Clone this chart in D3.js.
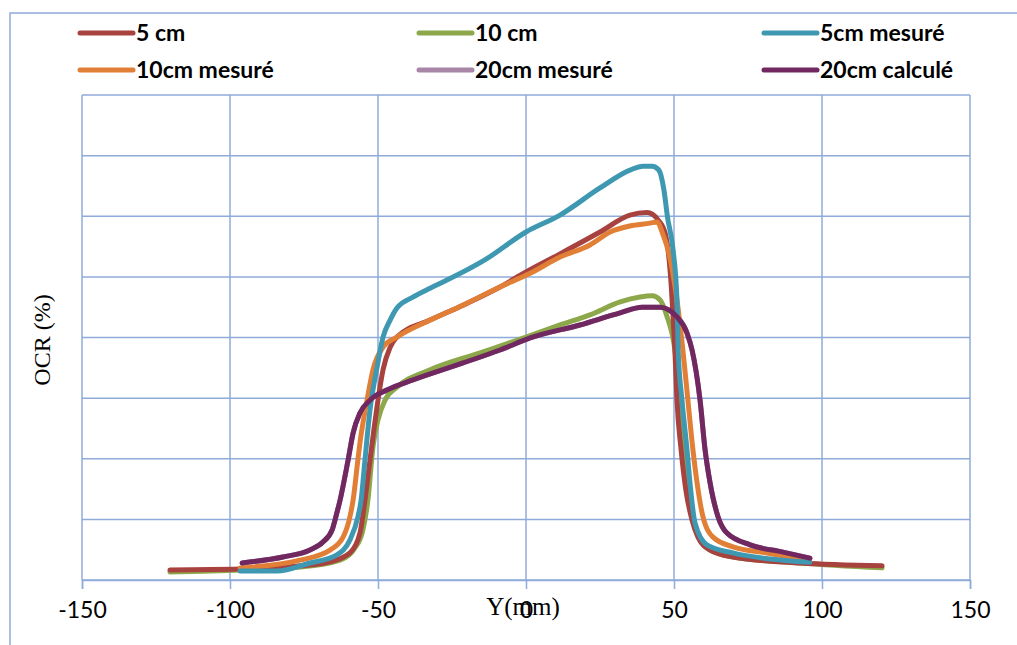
<!DOCTYPE html>
<html>
<head>
<meta charset="utf-8">
<script src="https://cdn.jsdelivr.net/npm/d3@7"></script>
<style>
  html, body { margin: 0; padding: 0; background: #fff; }
  svg { display: block; }
</style>
</head>
<body>
<svg id="chart" width="1017" height="645"></svg>
<script>
// ---- Data (x in mm, y in arbitrary OCR units, 0..120 spans the plot) ----
const xTicks = [-150, -100, -50, 0, 50, 100, 150];
const yGrid = [0, 15, 30, 45, 60, 75, 90, 105, 120];
const seriesNames = ["5 cm", "10 cm", "5cm mesuré", "10cm mesuré", "20cm mesuré", "20cm calculé"];

const red5cm = [
  [-120.3,2.5],[-96.6,2.7],[-76.4,3.5],[-66.2,4.5],[-59.5,6.7],[-56.1,11.6],[-54.4,19.8],
  [-52.7,29.7],[-51.7,35.4],[-50,44.5],[-48.3,52],[-45.9,57.6],[-43.6,60.1],[-32.4,64.3],
  [-21.3,68],[-8.8,72.5],[0,76.2],[11.5,80.7],[25,86.1],[35.1,90.3],[40.9,90.9],[44.6,89.1],
  [47,85.8],[48,81.6],[49,73.5],[49.7,65.1],[50.3,56.9],[51,44.5],[52.4,32.2],[54,22.3],
  [56.1,14.8],[58.1,10.6],[62.2,7.4],[69.9,5.7],[92.6,4.2],[120.3,3.5]
];
const green10cm = [
  [-120.3,2.0],[-96.6,2.5],[-76.4,3.2],[-62.8,4.9],[-57.8,7.9],[-55.1,12.4],[-53.4,19.8],
  [-51.7,32.9],[-50,39.6],[-47.6,44.5],[-43.6,47.7],[-32.4,52],[-15.5,56.2],[0,60.1],
  [11.5,63.1],[21.6,65.6],[31.8,68.8],[38.5,70],[42.6,70.3],[45.3,69.3],[47.5,65.5],
  [50.3,56.9],[52,44.5],[53.4,32.2],[54.7,22.3],[57.1,13.6],[58.8,9.9],[62.2,7.4],
  [69.9,5.7],[92.6,4.2],[120.3,3.0]
];
const blue5cmMes = [
  [-96.6,2.2],[-84.1,2.2],[-73,4.2],[-63.9,6.2],[-59.5,9.9],[-56.8,15.6],[-55.7,19.8],
  [-54.4,29.7],[-52.7,42.1],[-50.3,52.7],[-48.3,60.1],[-45.9,64.3],[-43.6,67.3],[-38.2,70],
  [-32.4,72.2],[-26.7,74.2],[-13.9,79.2],[0,86.1],[11.5,90.3],[25,97],[35.1,101.4],
  [39.5,102.4],[42.6,102.4],[44.8,101.5],[46.6,96.5],[47.8,89.8],[49.7,81.6],[51,69.3],[51.4,56.9],
  [52.7,44.5],[54.4,32.2],[55.4,24],[57.1,14.1],[61.1,8.7],[69.9,6.7],[86.8,4.9],[95.9,4.4]
];
const orange10cmMes = [
  [-96.6,3.0],[-76.4,4.9],[-66.2,7.4],[-61.8,10.6],[-59.5,15.6],[-58.4,19.8],[-56.8,29.7],
  [-56.1,33.9],[-53.7,44.5],[-51.7,52],[-48.3,57.6],[-43.6,60.1],[-32.4,64.3],[-21.3,68],
  [-8.8,72.5],[1.4,75.9],[11.5,79.9],[21.6,82.9],[28.4,86.1],[35.1,87.6],[41.9,88.3],
  [44.3,88.6],[46.3,85.4],[48,81.6],[51,69.3],[53,56.9],[54.7,44.5],[56.4,32.2],[57.8,24],
  [59.8,15.6],[63.2,10.6],[69.9,8.2],[81.4,6.7],[92.6,5.4],[95.9,5.2]
];
const lilac20cmMes = [
  [-95.9,4.2],[-82.1,5.7],[-73,7.4],[-68.6,9.4],[-65.5,12.4],[-63.9,16.6],[-62.8,19.8],
  [-60.1,29.7],[-58.4,36.4],[-56.1,41.3],[-52.7,44.5],[-47,47],[-38.2,49.5],[-21.3,53.7],
  [-8.8,56.9],[1.4,59.9],[18.2,63.1],[31.8,66.1],[39.2,67.5],[45.3,67.5],[51,65.1],
  [54.4,61.1],[56.1,56.9],[58.8,44.5],[60.5,32.2],[62.2,24],[64.9,15.6],[67.9,11.6],
  [75.7,8.7],[86.8,6.9],[95.9,5.4]
];
const purple20cmCalc = [
  [-95.9,4.2],[-82.1,5.7],[-73,7.4],[-68.6,9.4],[-65.5,12.4],[-63.9,16.6],[-62.8,19.8],
  [-60.1,29.7],[-58.4,36.4],[-56.1,41.3],[-52.7,44.5],[-47,47],[-38.2,49.5],[-21.3,53.7],
  [-8.8,56.9],[1.4,59.9],[18.2,63.1],[31.8,66.1],[39.2,67.5],[45.3,67.5],[51,65.1],
  [54.4,61.1],[56.1,56.9],[58.8,44.5],[60.5,32.2],[62.2,24],[64.9,15.6],[67.9,11.6],
  [75.7,8.7],[86.8,6.9],[95.9,5.4]
];

const colors = ["#A8423F", "#8CA84A", "#3F98B1", "#E27F36", "#A886A7", "#712860"];
const seriesData = [red5cm, green10cm, blue5cmMes, orange10cmMes, lilac20cmMes, purple20cmCalc];
// draw order (back to front)
const drawOrder = [4, 1, 0, 3, 2, 5];

// ---- Layout ----
const svg = d3.select("#chart");
const plotLeft = 82, plotRight = 970, plotTop = 95, plotBottom = 580;
const gridColor = "#8FABDA";

const x = d3.scaleLinear().domain([-150, 150]).range([plotLeft, plotRight]);
const y = d3.scaleLinear().domain([0, 120]).range([plotBottom, plotTop]);

// outer chart border
svg.append("rect").attr("x", 10).attr("y", 13).attr("width", 1030).attr("height", 660)
  .attr("fill", "none").attr("stroke", gridColor).attr("stroke-width", 1.5);

// horizontal gridlines
svg.append("g").selectAll("line").data(yGrid).join("line")
  .attr("x1", plotLeft).attr("x2", plotRight)
  .attr("y1", d => y(d)).attr("y2", d => y(d))
  .attr("stroke", gridColor).attr("stroke-width", 1.5);

// vertical gridlines
svg.append("g").selectAll("line").data(xTicks).join("line")
  .attr("x1", d => x(d)).attr("x2", d => x(d))
  .attr("y1", plotTop).attr("y2", plotBottom)
  .attr("stroke", gridColor).attr("stroke-width", 1.5);

// x axis
const xAxis = d3.axisBottom(x).tickValues(xTicks).tickSize(9).tickPadding(13)
  .tickFormat(d3.format("d"));
const gx = svg.append("g").attr("transform", `translate(0,${plotBottom})`).call(xAxis);
gx.select(".domain").attr("stroke", gridColor).attr("stroke-width", 1.5);
gx.selectAll(".tick line").attr("stroke", gridColor).attr("stroke-width", 1.5);
gx.selectAll(".tick text").attr("fill", "#000")
  .style("font-family", "Lato, 'Open Sans', sans-serif").style("font-size", "23px")
  .text(d => d < 0 ? "-" + Math.abs(d) : d);

// lines
const line = d3.line().x(d => x(d[0])).y(d => y(d[1])).curve(d3.curveMonotoneX);
svg.append("g").selectAll("path").data(drawOrder).join("path")
  .attr("d", i => line(seriesData[i]))
  .attr("fill", "none")
  .attr("stroke", i => colors[i])
  .attr("stroke-width", 5)
  .attr("stroke-linecap", "round")
  .attr("stroke-linejoin", "round");

// axis titles
svg.append("text").attr("x", 523).attr("y", 615).attr("text-anchor", "middle")
  .style("font-family", "'Liberation Serif', 'Times New Roman', serif").style("font-size", "25px")
  .attr("fill", "#000").text("Y(mm)");
svg.append("text").attr("transform", "translate(50,340) rotate(-90)").attr("text-anchor", "middle")
  .style("font-family", "'Liberation Serif', 'Times New Roman', serif").style("font-size", "24px")
  .attr("fill", "#000").text("OCR (%)");

// legend
const legX = [78, 417, 762];
const legY = [33, 70];
const leg = svg.append("g").selectAll("g").data(seriesNames).join("g")
  .attr("transform", (d, i) => `translate(${legX[i % 3]},${legY[Math.floor(i / 3)]})`);
leg.append("line").attr("x1", 2).attr("x2", 55).attr("y1", 0).attr("y2", 0)
  .attr("stroke", (d, i) => colors[i]).attr("stroke-width", 5).attr("stroke-linecap", "round");
leg.append("text").attr("x", 58).attr("y", 8)
  .style("font-family", "Lato, 'Open Sans', sans-serif").style("font-size", "23px")
  .style("font-weight", "bold").attr("fill", "#000").text(d => d);
</script>
</body>
</html>
